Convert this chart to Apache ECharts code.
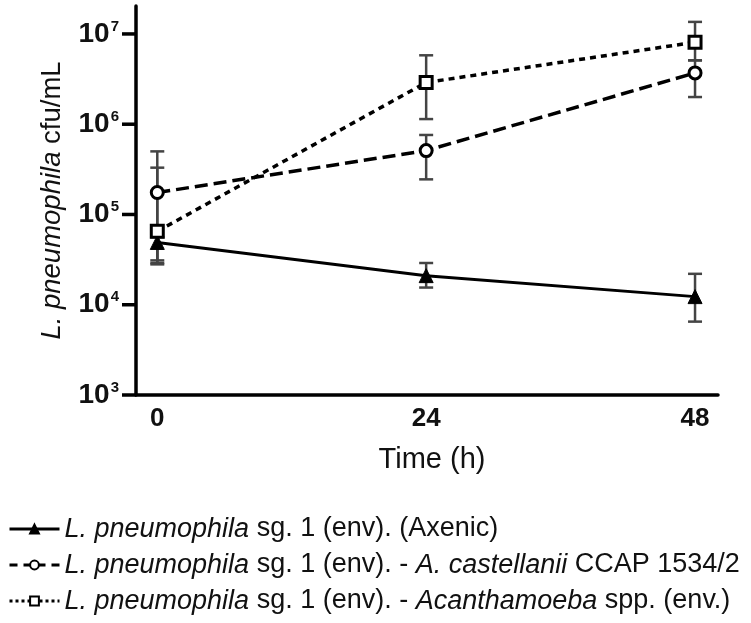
<!DOCTYPE html>
<html>
<head>
<meta charset="utf-8">
<script src="https://cdn.jsdelivr.net/npm/echarts@6/dist/echarts.min.js"></script>
<style>
html,body{margin:0;padding:0;background:#fff;}
#c{width:751px;height:623px;}
</style>
</head>
<body>
<div id="c"></div>
<script>
// ---- data ----
var timePoints = [0, 24, 48];
var xTickLabels = [0, 24, 48];
var yTickExponents = [3, 4, 5, 6, 7];
var seriesNames = [
  'L. pneumophila sg. 1 (env). (Axenic)',
  'L. pneumophila sg. 1 (env). - A. castellanii CCAP 1534/2',
  'L. pneumophila sg. 1 (env). - Acanthamoeba spp. (env.)'
];
var legendRich = [
  '{i|L. pneumophila} sg. 1 (env). (Axenic)',
  '{i|L. pneumophila} sg. 1 (env). - {i|A. castellanii} CCAP 1534/2',
  '{i|L. pneumophila} sg. 1 (env). - {i|Acanthamoeba} spp. (env.)'
];
var axenicMean = [49000, 21000, 12300];
var axenicLow = [29000, 15500, 6500];
var axenicHigh = [56000, 29000, 22000];
var castMean = [175000, 510000, 3700000];
var castLow = [31000, 245000, 2000000];
var castHigh = [500000, 760000, 5100000];
var acanthMean = [65000, 2900000, 8100000];
var acanthLow = [28000, 1140000, 5100000];
var acanthHigh = [330000, 5800000, 13600000];

var X_MIN = -1.9, X_MAX = 50.05;
var Y_MIN = 1000, Y_MAX = 20400000;

function pairs(xs, ys) { return xs.map(function (x, i) { return [x, ys[i]]; }); }
function errs(xs, lo, hi) { return xs.map(function (x, i) { return [x, lo[i], hi[i]]; }); }

var errData = errs(timePoints, axenicLow, axenicHigh)
  .concat(errs(timePoints, castLow, castHigh))
  .concat(errs(timePoints, acanthLow, acanthHigh));

var yTickValues = yTickExponents.map(function (e) { return Math.pow(10, e); });

var chart = echarts.init(document.getElementById('c'), null, {renderer: 'canvas'});
var FONT = 'Liberation Sans, Arial, sans-serif';

chart.setOption({
  backgroundColor: '#ffffff',
  animation: false,
  grid: {left: 136, right: 33, top: 6, bottom: 228, containLabel: false},
  xAxis: {
    type: 'value',
    min: X_MIN,
    max: X_MAX,
    name: 'Time (h)',
    nameLocation: 'middle',
    nameGap: 50,
    nameTextStyle: {fontFamily: FONT, fontSize: 29, color: '#111', padding: [0, 0, 0, 10]},
    axisLine: {show: true, lineStyle: {color: '#000', width: 3.5}},
    axisTick: {show: false},
    splitLine: {show: false},
    axisLabel: {
      customValues: xTickLabels,
      margin: 11,
      fontFamily: FONT, fontSize: 26, fontWeight: 'bold', color: '#111'
    }
  },
  yAxis: {
    type: 'log',
    logBase: 10,
    min: Y_MIN,
    max: Y_MAX,
    name: '{i|L. pneumophila} cfu/mL',
    nameLocation: 'middle',
    nameGap: 70,
    nameRotate: 90,
    nameTextStyle: {
      fontFamily: FONT, fontSize: 27.5, color: '#111',
      rich: {
        i: {fontStyle: 'italic', fontFamily: FONT, fontSize: 27.5, color: '#111'}
      }
    },
    axisLine: {show: true, onZero: false, lineStyle: {color: '#000', width: 3.5}},
    axisTick: {show: false},
    splitLine: {show: false},
    minorTick: {show: false},
    axisLabel: {
      margin: 17,
      showMaxLabel: false,
      formatter: function (v) {
        var e = Math.round(Math.log10(v));
        if (yTickExponents.indexOf(e) < 0 || Math.abs(Math.log10(v) - e) > 1e-6) { return ''; }
        return '{b|10}{s|' + e + '}';
      },
      rich: {
        b: {fontFamily: FONT, fontSize: 28, fontWeight: 'bold', color: '#111', verticalAlign: 'middle', lineHeight: 30},
        s: {fontFamily: FONT, fontSize: 15, fontWeight: 'bold', color: '#111', verticalAlign: 'top', lineHeight: 22, padding: [0, 0, 0, 1]}
      }
    }
  },
  legend: {
    data: [
      {name: seriesNames[0], lineStyle: {type: 'solid', width: 3}},
      {name: seriesNames[1], lineStyle: {type: [8, 6], width: 3}},
      {name: seriesNames[2], lineStyle: {type: [3, 3], width: 3}}
    ],
    orient: 'vertical',
    left: 3,
    top: 510,
    itemGap: 8,
    itemWidth: 50,
    itemHeight: 11,
    formatter: function (name) { return legendRich[seriesNames.indexOf(name)]; },
    textStyle: {
      fontFamily: FONT, fontSize: 27, color: '#111', lineHeight: 28,
      rich: {i: {fontStyle: 'italic', fontFamily: FONT, fontSize: 27, color: '#111', lineHeight: 28}}
    }
  },
  series: [
    {
      // y-axis tick marks: marker-only line series sitting on the axis, offset outward
      type: 'line',
      name: 'yticks',
      z: 3,
      clip: false,
      silent: true,
      showSymbol: true,
      symbol: 'rect',
      symbolSize: [14, 3.5],
      symbolOffset: [-7, 0],
      lineStyle: {width: 0, opacity: 0},
      itemStyle: {color: '#000', borderWidth: 0},
      data: yTickValues.map(function (v) { return [X_MIN, v]; })
    },
    {
      type: 'custom',
      name: 'errorbars',
      z: 1,
      renderItem: function (params, api) {
        var x = api.value(0);
        var p1 = api.coord([x, api.value(1)]);
        var p2 = api.coord([x, api.value(2)]);
        var hw = 7;
        var st = {stroke: '#444', lineWidth: 2.5, fill: null};
        return {
          type: 'group',
          children: [
            {type: 'line', shape: {x1: p1[0], y1: p1[1], x2: p2[0], y2: p2[1]}, style: st},
            {type: 'line', shape: {x1: p1[0] - hw, y1: p1[1], x2: p1[0] + hw, y2: p1[1]}, style: st},
            {type: 'line', shape: {x1: p2[0] - hw, y1: p2[1], x2: p2[0] + hw, y2: p2[1]}, style: st}
          ]
        };
      },
      encode: {x: 0, y: [1, 2]},
      data: errData
    },
    {
      type: 'line',
      name: seriesNames[0],
      z: 5,
      data: pairs(timePoints, axenicMean),
      symbol: 'triangle',
      symbolSize: 14,
      lineStyle: {color: '#000', width: 3, type: 'solid'},
      itemStyle: {color: '#000', borderColor: '#000', borderWidth: 1}
    },
    {
      type: 'line',
      name: seriesNames[1],
      z: 6,
      data: pairs(timePoints, castMean),
      symbol: 'circle',
      symbolSize: 12,
      lineStyle: {color: '#000', width: 3.5, type: [13, 6]},
      itemStyle: {color: '#fff', borderColor: '#000', borderWidth: 3}
    },
    {
      type: 'line',
      name: seriesNames[2],
      z: 7,
      data: pairs(timePoints, acanthMean),
      symbol: 'rect',
      symbolSize: 12,
      lineStyle: {color: '#000', width: 3.5, type: [6, 5]},
      itemStyle: {color: '#fff', borderColor: '#000', borderWidth: 3}
    }
  ]
});
</script>
</body>
</html>
